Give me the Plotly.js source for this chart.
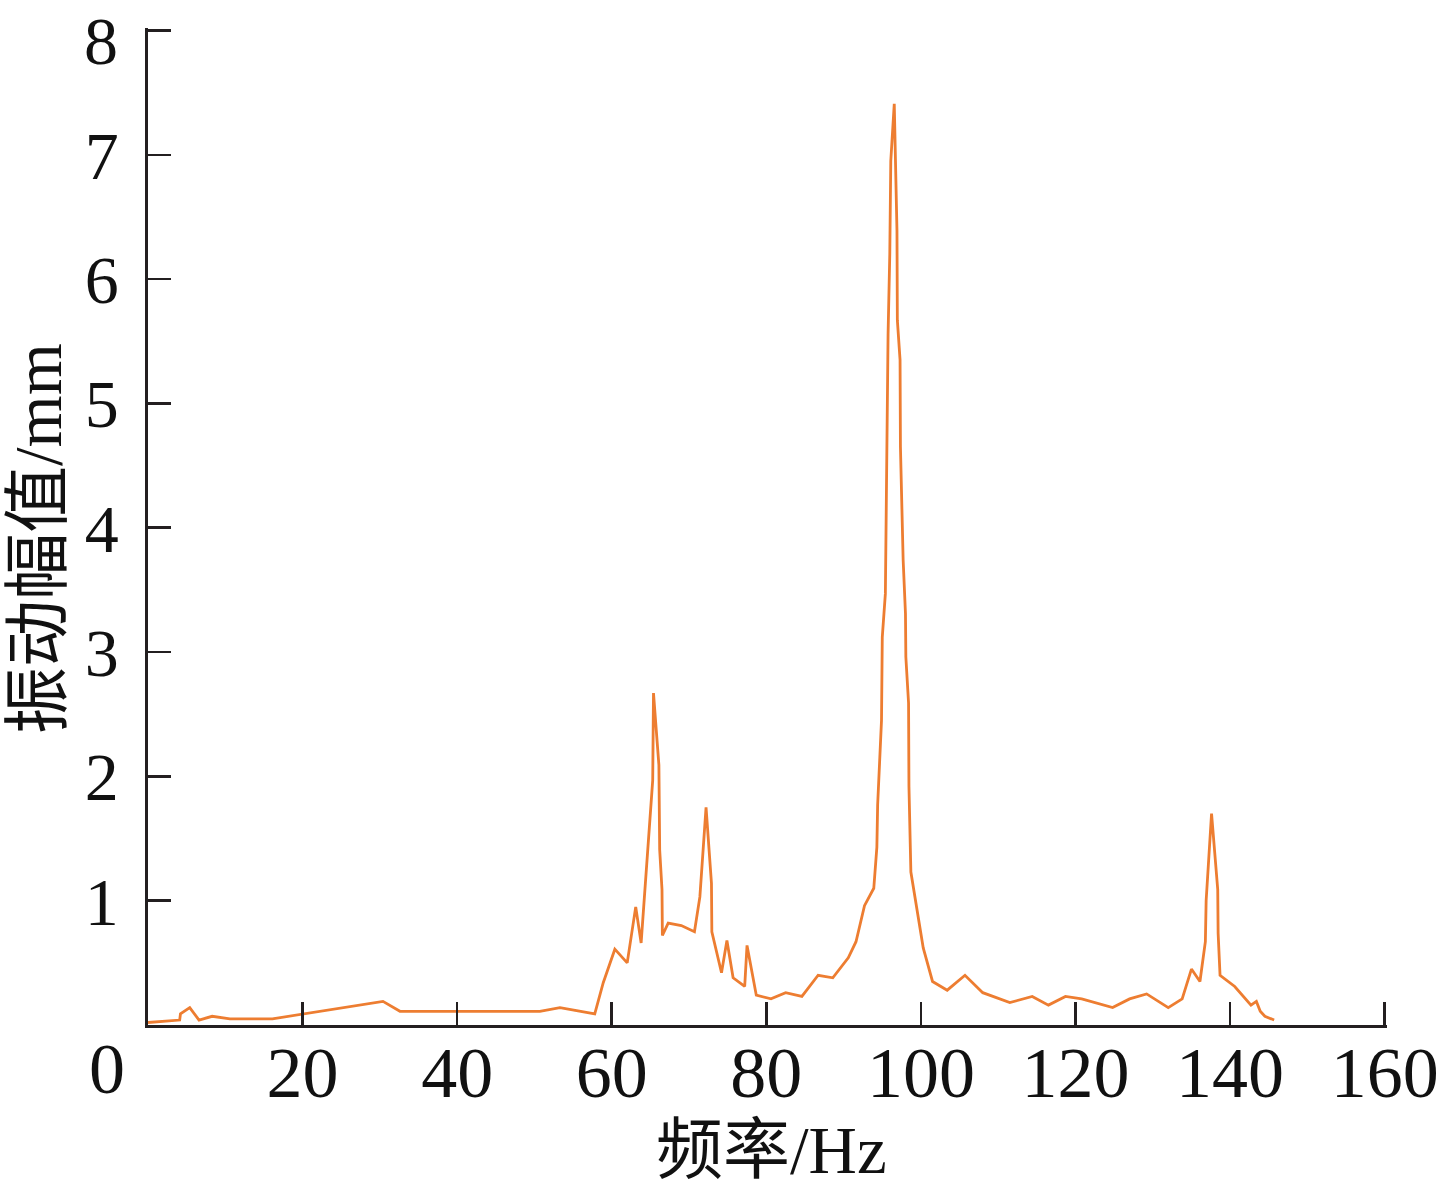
<!DOCTYPE html>
<html>
<head>
<meta charset="utf-8">
<script src="https://cdn.plot.ly/plotly-3.0.1.min.js"></script>
<style>html,body{margin:0;padding:0;background:#fff;}#chart{width:1448px;height:1196px;}</style>
</head>
<body>
<div id="chart"></div>
<script>
// Frequency (Hz)
const freq = [0, 4.1, 4.2, 5.4, 6.6, 8.3, 10.6, 16.1, 30.4, 32.6, 50.7, 53.3, 57.8, 58.9, 60.4, 62.0, 63.1, 63.8, 65.3, 65.4, 66.1, 66.2, 66.5, 66.55, 67.3, 69.0, 70.7, 71.4, 72.2, 72.9, 72.95, 74.2, 74.9, 75.7, 77.2, 77.5, 78.7, 80.6, 82.5, 84.6, 86.7, 88.6, 90.6, 91.6, 92.7, 93.9, 94.3, 94.4, 94.9, 95.0, 95.4, 95.45, 95.6, 95.75, 95.97, 96.1, 96.55, 96.6, 96.9, 96.95, 97.3, 97.35, 97.6, 97.7, 98.0, 98.05, 98.4, 98.45, 98.7, 100.3, 101.5, 103.4, 105.7, 108.0, 111.5, 114.4, 116.5, 118.7, 120.8, 124.8, 127.0, 129.2, 132.0, 133.8, 135.0, 136.1, 136.8, 136.9, 137.6, 138.1, 138.4, 138.45, 138.7, 140.6, 142.7, 143.4, 143.9, 144.5, 145.7];
// Vibration amplitude (mm)
const amp = [0.02, 0.04, 0.09, 0.14, 0.04, 0.07, 0.05, 0.05, 0.19, 0.11, 0.11, 0.14, 0.09, 0.34, 0.61, 0.50, 0.95, 0.66, 1.97, 2.67, 2.09, 1.41, 1.09, 0.72, 0.82, 0.80, 0.75, 1.03, 1.75, 1.14, 0.75, 0.42, 0.68, 0.38, 0.31, 0.64, 0.24, 0.21, 0.26, 0.23, 0.40, 0.38, 0.54, 0.67, 0.96, 1.10, 1.43, 1.77, 2.45, 3.12, 3.47, 3.74, 4.49, 5.56, 6.20, 6.95, 7.41, 7.22, 6.39, 5.67, 5.35, 4.65, 3.95, 3.74, 3.31, 2.96, 2.59, 1.92, 1.23, 0.62, 0.35, 0.28, 0.40, 0.26, 0.18, 0.23, 0.16, 0.23, 0.21, 0.14, 0.21, 0.25, 0.14, 0.21, 0.45, 0.35, 0.67, 1.00, 1.70, 1.35, 1.09, 0.74, 0.40, 0.31, 0.16, 0.19, 0.11, 0.07, 0.04];

const xTickVals = [0, 20, 40, 60, 80, 100, 120, 140, 160];
const xTickText = ['', '20', '40', '60', '80', '100', '120', '140', '160'];
const yTickVals = [1, 2, 3, 4, 5, 6, 7, 8];
const yTickText = ['1', '2', '3', '4', '5', '6', '7', '8'];
const xTitle = '频率/Hz';
const yTitle = '振动幅值/mm';
const cornerLabel = '0';

const FONT = '"Liberation Serif", "Times New Roman", "Noto Sans CJK SC", serif';
const AXC = '#231f20';
const TXT = '#111';
const YFS = 68;

// the topmost y label sits at the very edge of the page: draw it as an annotation so it stays inside
const yTickTextAxis = yTickText.map((t, i) => (i === yTickText.length - 1 ? '' : t));

const trace = {
  x: freq, y: amp, type: 'scatter', mode: 'lines',
  line: {color: '#ED7D31', width: 2.8}, hoverinfo: 'x+y'
};

const layout = {
  width: 1448, height: 1196,
  margin: {l: 148, r: 60.7, t: 27.5, b: 171},
  paper_bgcolor: '#fff', plot_bgcolor: '#fff',
  showlegend: false,
  font: {family: FONT, color: TXT, size: 72},
  xaxis: {
    range: [0, 160.3], tickvals: xTickVals, ticktext: xTickText,
    showline: true, linecolor: AXC, linewidth: 2.6, mirror: false,
    ticks: 'inside', ticklen: 23, tickwidth: 2.6, tickcolor: AXC,
    showgrid: false, zeroline: false,
    tickfont: {family: FONT, size: 72, color: TXT},
    ticklabelstandoff: -17, ticklabeloverflow: 'allow',
    automargin: false
  },
  yaxis: {
    range: [0, 8.02], tickvals: yTickVals, ticktext: yTickTextAxis,
    showline: true, linecolor: AXC, linewidth: 2.6, mirror: false,
    ticks: 'inside', ticklen: 23, tickwidth: 2.6, tickcolor: AXC,
    showgrid: false, zeroline: false,
    tickfont: {family: FONT, size: YFS, color: TXT},
    ticklabelstandoff: 13, ticklabeloverflow: 'allow',
    automargin: false
  },
  annotations: [
    {
      xref: 'paper', yref: 'paper', x: 0, xshift: -28, y: 1, yshift: 27,
      text: yTickText[yTickText.length - 1], showarrow: false, xanchor: 'right', yanchor: 'top',
      font: {family: FONT, size: YFS, color: TXT}
    },
    {
      xref: 'paper', yref: 'paper', x: -0.0331, y: 0, yshift: -44,
      text: cornerLabel, showarrow: false, xanchor: 'center', yanchor: 'middle',
      font: {family: FONT, size: 72, color: TXT}
    },
    {
      xref: 'paper', yref: 'paper', x: 0.503, y: 0, yshift: -125,
      text: xTitle, showarrow: false, xanchor: 'center', yanchor: 'middle',
      font: {family: FONT, size: 67, color: TXT}
    },
    {
      xref: 'paper', yref: 'paper', x: 0, xshift: -110, y: 0.4874,
      text: yTitle, showarrow: false, xanchor: 'center', yanchor: 'middle', textangle: -90,
      font: {family: FONT, size: 67, color: TXT}
    }
  ]
};

Plotly.newPlot('chart', [trace], layout, {displayModeBar: false, staticPlot: true});
</script>
</body>
</html>
